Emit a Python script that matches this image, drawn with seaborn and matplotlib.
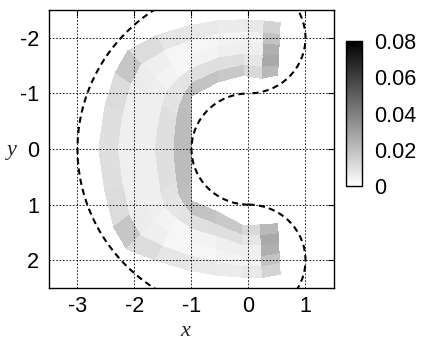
import numpy as np
import matplotlib
matplotlib.use("Agg")
import matplotlib.pyplot as plt
from matplotlib.patches import Arc
from matplotlib.ticker import MultipleLocator, FuncFormatter
import seaborn as sns

sns.set_style("white")
plt.rcParams['font.family'] = ['Liberation Sans', 'DejaVu Sans']
plt.rcParams['axes.unicode_minus'] = False

# ---- data: C-shaped surface (stations from top tip, around the left, to bottom tip)
inner_x = [0.50, 0.22, -0.10, -0.55, -1.00, -1.00, -1.00, -1.00, -1.00, -1.00,
           -1.00, -1.00, -1.00, -1.00, -1.00, -0.55, -0.10, 0.22, 0.50]
inner_y = [-1.33, -1.28, -1.34, -1.21, -0.95, -0.78, -0.60, -0.42, -0.22, 0.00,
           0.22, 0.42, 0.60, 0.78, 0.93, 1.14, 1.38, 1.37, 1.35]
outer_x = [0.55, 0.25, -0.10, -0.55, -1.05, -1.62, -2.12, -2.35, -2.52, -2.63,
           -2.52, -2.36, -2.14, -1.62, -1.05, -0.55, -0.10, 0.25, 0.55]
outer_y = [-2.27, -2.31, -2.32, -2.30, -2.21, -2.03, -1.77, -1.35, -0.75, 0.00,
           0.75, 1.40, 1.80, 2.00, 2.18, 2.26, 2.31, 2.31, 2.25]
across = [0.0, 0.2, 0.4, 0.6, 0.8, 1.0]

# cell values, rows: inner -> outer, columns: top tip -> bottom tip
values = [
    [0.022, 0.012, 0.017, 0.019, 0.020, 0.020, 0.021, 0.021, 0.021,
     0.021, 0.021, 0.021, 0.020, 0.020, 0.019, 0.017, 0.012, 0.022],
    [0.027, 0.008, 0.010, 0.010, 0.009, 0.008, 0.009, 0.010, 0.010,
     0.010, 0.010, 0.009, 0.008, 0.009, 0.010, 0.010, 0.008, 0.027],
    [0.025, 0.005, 0.005, 0.004, 0.003, 0.004, 0.005, 0.005, 0.005,
     0.005, 0.005, 0.005, 0.004, 0.003, 0.004, 0.005, 0.005, 0.025],
    [0.019, 0.004, 0.004, 0.003, 0.003, 0.005, 0.006, 0.005, 0.005,
     0.005, 0.005, 0.006, 0.005, 0.003, 0.003, 0.004, 0.004, 0.019],
    [0.014, 0.007, 0.006, 0.007, 0.008, 0.011, 0.018, 0.011, 0.010,
     0.010, 0.011, 0.018, 0.011, 0.008, 0.007, 0.006, 0.007, 0.014],
]

# dashed boundary curves: circle arcs (center x, center y, radius, start, end angle)
arc_cx = [0.0, 0.0, 0.0, 0.0]
arc_cy = [0.0, -2.0, 0.0, 2.0]
arc_r = [3.0, 1.0, 1.0, 1.0]
arc_t1 = [90, -90, 90, -90]
arc_t2 = [270, 90, 270, 90]

x_ticks = [-3, -2, -1, 0, 1]
y_ticks = [-2, -1, 0, 1, 2]
cbar_ticks = [0, 0.02, 0.04, 0.06, 0.08]

# ---- build structured mesh
ix, iy = np.array(inner_x), np.array(inner_y)
ox, oy = np.array(outer_x), np.array(outer_y)
s = np.array(across)[:, None]
X = ix[None, :] + s * (ox - ix)[None, :]
Y = iy[None, :] + s * (oy - iy)[None, :]
Z = np.array(values)

fig = plt.figure(figsize=(4.23, 3.43), dpi=100)
ax = fig.add_axes([0.1158, 0.1603, 0.6738, 0.8105])
cmap = sns.blend_palette(["white", "black"], as_cmap=True)
mesh = ax.pcolormesh(X, Y, Z, cmap=cmap, vmin=0, vmax=0.08, shading='flat',
                     edgecolors='face', linewidth=0.3, antialiased=False, zorder=1)

for cx, cy, r, t1, t2 in zip(arc_cx, arc_cy, arc_r, arc_t1, arc_t2):
    ax.add_patch(Arc((cx, cy), 2 * r, 2 * r, theta1=t1, theta2=t2, color='black',
                     lw=1.5, linestyle=(0, (3, 2)), zorder=4))

ax.set_xlim(-3.5, 1.5)
ax.set_ylim(2.5, -2.5)
ax.set_xticks(x_ticks)
ax.set_yticks(y_ticks)
ax.set_axisbelow(False)
ax.grid(True, color='black', linestyle=(0, (2, 2)), linewidth=0.6)
ax.tick_params(direction='in', length=4, width=0.8, top=True, right=True,
               labelsize=15.5, colors='black')
ax.tick_params(axis='x', pad=5.5)
ax.tick_params(axis='y', pad=7)
for sp in ax.spines.values():
    sp.set_color('black')
    sp.set_linewidth(1.0)

ax.set_xlabel('x', fontfamily='Liberation Serif', fontstyle='italic', fontsize=16,
              va='baseline')
ax.xaxis.set_label_coords(0.477, -0.172)
ax.set_ylabel('y', fontfamily='Liberation Serif', fontstyle='italic', fontsize=16,
              rotation=0, ha='center', va='baseline')
ax.yaxis.set_label_coords(-0.13, 0.478)

cax = fig.add_axes([0.818, 0.4577, 0.0378, 0.4227])
cb = fig.colorbar(mesh, cax=cax)
cb.set_ticks(cbar_ticks)
cb.ax.yaxis.set_major_formatter(FuncFormatter(lambda v, p: f'{v:g}'))
cb.ax.yaxis.set_minor_locator(MultipleLocator(0.01))
cb.ax.tick_params(which='both', direction='in', left=True, right=True, length=4,
                  width=0.8, labelsize=15.5, pad=9, colors='black')
cb.outline.set_linewidth(1.0)
cb.outline.set_edgecolor('black')

fig.savefig('out.png', dpi=100)
